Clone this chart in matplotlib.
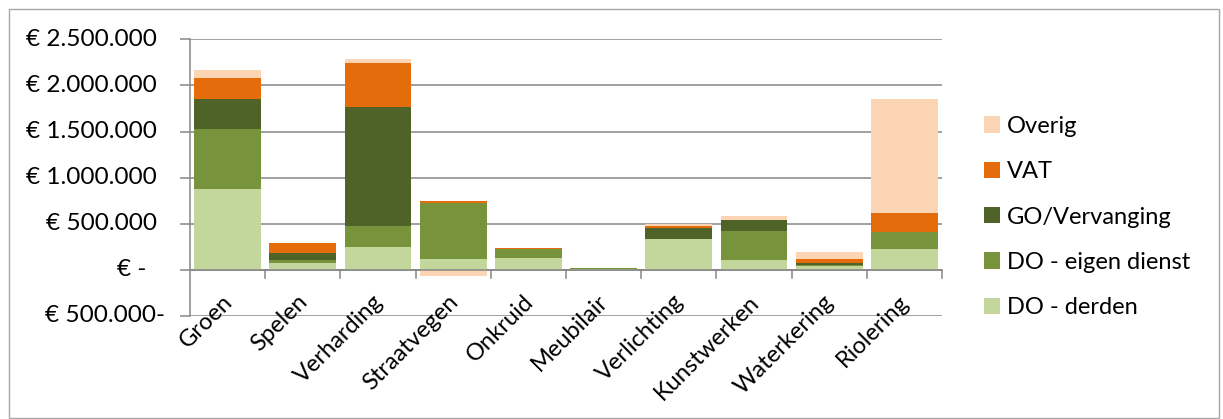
import matplotlib
matplotlib.use("Agg")
import matplotlib.pyplot as plt
import matplotlib.transforms as mtransforms
from matplotlib.patches import Rectangle
import numpy as np

categories = ["Groen", "Spelen", "Verharding", "Straatvegen", "Onkruid",
              "Meubilair", "Verlichting", "Kunstwerken", "Waterkering", "Riolering"]
do_derden = [874000, 79000, 245000, 113000, 131000, 8000, 335000, 102000, 40000, 225000]
do_eigen = [658000, 29000, 230000, 617000, 91000, 17000, 0, 322000, 11000, 185000]
go_vervanging = [317000, 72000, 1288000, 0, 0, 0, 118000, 116000, 29000, 0]
vat = [230000, 115000, 478000, 15000, 12000, 0, 22000, 5000, 36000, 210000]
overig = [86000, 0, 50000, -65000, 8000, 0, 24000, 38000, 80000, 1228000]

series_names = ["DO - derden", "DO - eigen dienst", "GO/Vervanging", "VAT", "Overig"]
series_colors = ["#C3D69B", "#77933C", "#4F6228", "#E46C0A", "#FCD5B5"]

yticks = [-500000, 0, 500000, 1000000, 1500000, 2000000, 2500000]
ytick_labels = ["€ 500.000-", "€ -", "€ 500.000", "€ 1.000.000", "€ 1.500.000",
                "€ 2.000.000", "€ 2.500.000"]

plt.rcParams['font.family'] = 'Lato'
FS = 17
GRID = "#868686"

W, H = 1223, 419
fig = plt.figure(figsize=(W / 100, H / 100), dpi=100)
ax = fig.add_axes([190 / W, (H - 316) / H, (942 - 190) / W, (316 - 39.3) / H])

x = np.arange(len(categories))
width = 0.887
pos_bottom = np.zeros(len(categories))
neg_bottom = np.zeros(len(categories))
handles = []
for name, vals, col in zip(series_names,
                           [do_derden, do_eigen, go_vervanging, vat, overig],
                           series_colors):
    v = np.array(vals, dtype=float)
    b = np.where(v >= 0, pos_bottom, neg_bottom)
    h = ax.bar(x, v, width=width, bottom=b, color=col, edgecolor='none',
               label=name, zorder=3)
    handles.append(h)
    pos_bottom = pos_bottom + np.where(v >= 0, v, 0)
    neg_bottom = neg_bottom + np.where(v < 0, v, 0)

ax.set_xlim(-0.5, len(categories) - 0.5)
ax.set_ylim(-500000, 2500000)

for s in ['top', 'right', 'bottom']:
    ax.spines[s].set_visible(False)
ax.spines['left'].set_color(GRID)
ax.spines['left'].set_linewidth(1.1)

ax.set_yticks(yticks)
ax.set_yticklabels([])
ax.tick_params(axis='y', length=7, color=GRID, width=1.1, direction='out')
for yv in yticks:
    ax.axhline(yv, color=GRID, lw=1.1, zorder=1)
ax.axhline(0, color=GRID, lw=1.1, zorder=4)

# x-axis tick marks at category boundaries
ax.set_xticks([])
for b in np.arange(0.5, len(categories), 1.0):
    ax.plot([b, b], [0, -85000], color=GRID, lw=1.1, zorder=4, clip_on=False)

# y tick labels (Excel number format padding)
right_edges = {"€ 500.000-": 165, "€ -": 146}
tr = mtransforms.blended_transform_factory(fig.transFigure, ax.transData)
for yv, lab in zip(yticks, ytick_labels):
    xr = right_edges.get(lab, 157)
    ax.text(xr / W, yv, lab, transform=tr, ha='right', va='center',
            fontsize=17.6, color='black')

# category labels rotated 45 degrees (placed in figure coords from data x)
for i, c in enumerate(categories):
    px = ax.transData.transform((i, 0))[0]
    fig.text((px - 6) / W, (H - 291) / H, c, rotation=45,
             rotation_mode='anchor', ha='right', va='top', fontsize=FS,
             color='black', family='Lato')

leg = fig.legend(handles[::-1], series_names[::-1], loc='center left',
                 bbox_to_anchor=(984 / W, (H - 217) / H), frameon=False,
                 fontsize=FS, handlelength=0.68, handleheight=0.68,
                 handletextpad=0.28, labelspacing=1.03, borderpad=0,
                 borderaxespad=0)

fig.patches.append(Rectangle((8.5 / W, 1.5 / H), (1218.5 - 8.5) / W, (409.5 - 1.5) / H,
                             transform=fig.transFigure, fill=False,
                             edgecolor="#a6a6a6", lw=1.0))

fig.savefig("out.png", dpi=100)
